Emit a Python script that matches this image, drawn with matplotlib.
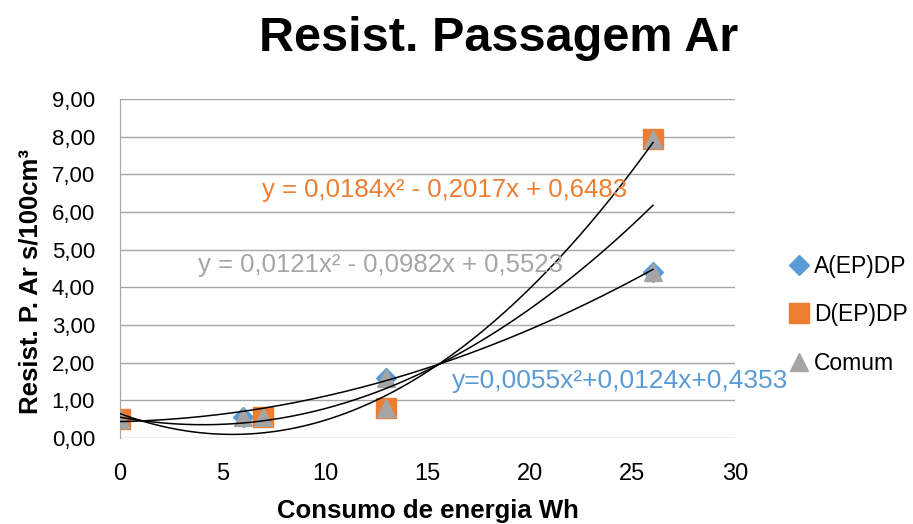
import numpy as np
import matplotlib.pyplot as plt
from matplotlib.ticker import FuncFormatter

plt.rcParams['font.family'] = ['Liberation Sans', 'DejaVu Sans']

# measured points
a_x = [0, 6, 13, 26]
a_y = [0.50, 0.55, 1.60, 4.40]
d_x = [0, 7, 13, 26]
d_y = [0.50, 0.55, 0.80, 7.95]
c_x = a_x + d_x
c_y = a_y + d_y

# quadratic trendlines (a, b, c)
fit_a = [0.0055, 0.0124, 0.4353]
fit_d = [0.0184, -0.2017, 0.6483]
fit_c = [0.0121, -0.0982, 0.5523]

blue = '#5B9BD5'
orange = '#ED7D31'
grey = '#A5A5A5'


def comma(v, pos):
    return "{:.2f}".format(v).replace('.', ',')


def main():
    fig = plt.figure(figsize=(9.13, 5.24), dpi=100)
    ax = fig.add_axes([0.1314, 0.1641, 0.6736, 0.647])

    ax.plot(a_x, a_y, 'D', color=blue, markersize=10, label='A(EP)DP', zorder=3)
    ax.plot(d_x, d_y, 's', color=orange, markersize=14, label='D(EP)DP', zorder=3)
    ax.plot(c_x, c_y, '^', color=grey, markersize=13, label='Comum', zorder=3)

    xx = np.linspace(0, 26, 200)
    for f in (fit_a, fit_d, fit_c):
        ax.plot(xx, np.polyval(f, xx), color='black', lw=1.1, zorder=4)

    ax.text(15.85, 6.58, 'y = 0,0184x² - 0,2017x + 0,6483', color=orange,
            fontsize=18.5, ha='center', va='center', zorder=5)
    ax.text(12.7, 4.59, 'y = 0,0121x² - 0,0982x + 0,5523', color=grey,
            fontsize=18.5, ha='center', va='center', zorder=5)
    ax.text(24.4, 1.51, 'y=0,0055x²+0,0124x+0,4353', color=blue,
            fontsize=19, ha='center', va='center', zorder=5)

    ax.set_xlim(0, 30)
    ax.set_ylim(0, 9)
    ax.set_xticks(np.arange(0, 31, 5))
    ax.set_yticks(np.arange(0, 9.5, 1))
    ax.yaxis.set_major_formatter(FuncFormatter(comma))
    ax.tick_params(length=0, labelsize=16, pad=18)
    ax.tick_params(axis='x', labelsize=17)
    ax.grid(axis='y', color='#A6A6A6', lw=1.0)
    ax.set_axisbelow(True)
    for s in ('top', 'right', 'bottom'):
        ax.spines[s].set_visible(False)
    ax.spines['left'].set_color('#A6A6A6')

    fig.text(0.546, 0.927, 'Resist. Passagem Ar', fontsize=35, fontweight='bold',
             ha='center', va='center')
    fig.text(0.469, 0.025, 'Consumo de energia Wh', fontsize=18.5, fontweight='bold',
             ha='center', va='center')
    fig.text(0.033, 0.462, 'Resist. P. Ar s/100cm³', fontsize=18.5, fontweight='bold',
             rotation=90, ha='center', va='center')

    fig.legend(loc='center left', bbox_to_anchor=(0.853, 0.399), frameon=False,
               fontsize=16.5, handlelength=0.8, handletextpad=0.25, labelspacing=1.1,
               borderpad=0)

    plt.savefig("out.png", dpi=100)


if __name__ == '__main__':
    main()
